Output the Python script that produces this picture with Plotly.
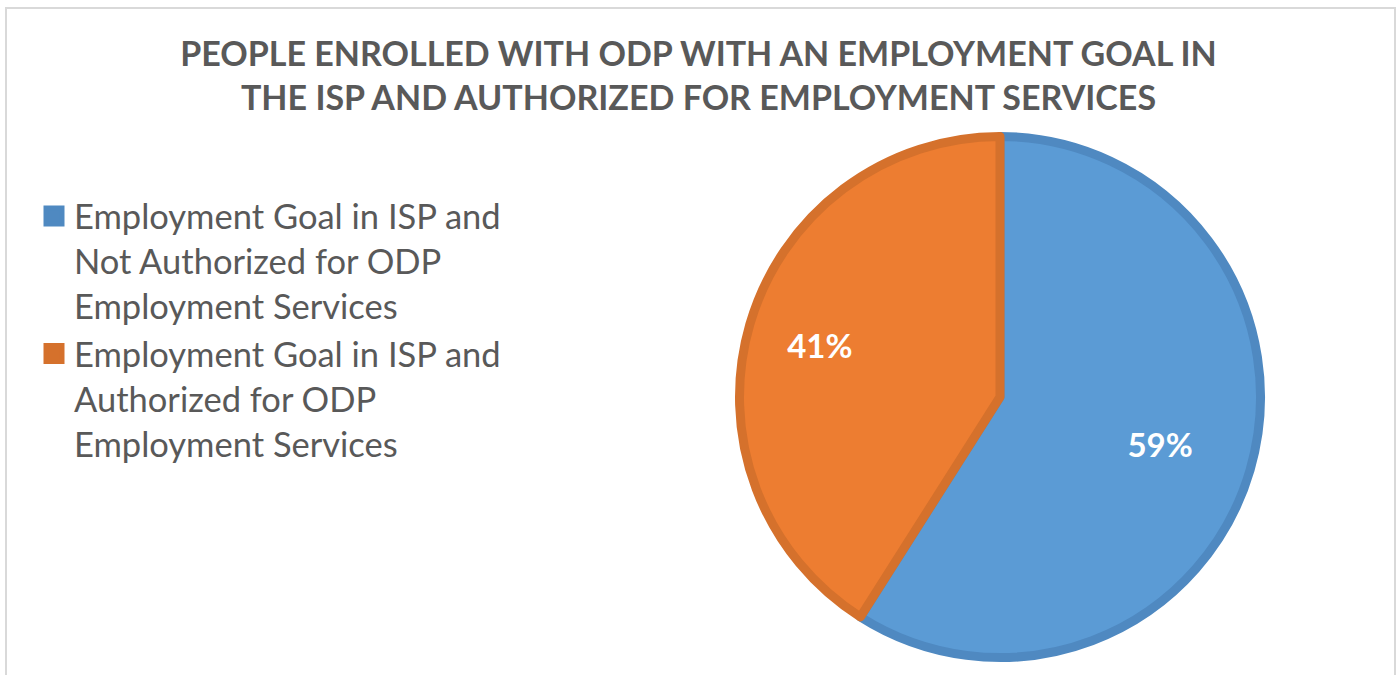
import plotly.graph_objects as go

categories = [
    "Employment Goal in ISP and<br>Not Authorized for ODP<br>Employment Services",
    "Employment Goal in ISP and<br>Authorized for ODP<br>Employment Services",
]
values = [59, 41]
fill_colors = ["#5B9BD5", "#ED7D31"]
edge_colors = ["#4F89C1", "#D5712C"]
title_text = "PEOPLE ENROLLED WITH ODP WITH AN EMPLOYMENT GOAL IN<br>THE ISP AND AUTHORIZED FOR EMPLOYMENT SERVICES"

W, H = 1397, 675
cx, cy, r = 1000, 397, 260.5
dom = dict(x=[(cx - r) / W, (cx + r) / W], y=[(H - cy - r) / H, (H - cy + r) / H])

fig = go.Figure()

# slices
fig.add_trace(go.Pie(
    labels=categories, values=values, sort=False, direction="clockwise", rotation=0,
    marker=dict(colors=fill_colors, line=dict(color=edge_colors, width=9)),
    textinfo="none", showlegend=False, domain=dom, hoverinfo="label+percent",
))
# percentage labels: transparent rings over the same values, one per slice label radius
label_holes = [0.28, 0.44]
for i, hole in enumerate(label_holes):
    tmpl = ["" for _ in values]
    tmpl[i] = "%{percent:.0%}"
    fig.add_trace(go.Pie(
        labels=categories, values=values, sort=False, direction="clockwise", rotation=0,
        hole=hole,
        marker=dict(colors=["rgba(0,0,0,0)"] * len(values), line=dict(width=0)),
        texttemplate=tmpl, textposition="inside", insidetextorientation="horizontal",
        textfont=dict(family="Lato", size=33, color="white", weight="bold"),
        showlegend=False, domain=dom, hoverinfo="skip",
    ))
# legend entries
for name, col in zip(categories, edge_colors):
    fig.add_trace(go.Scatter(
        x=[None], y=[None], mode="markers", name=name,
        marker=dict(symbol="square", size=16, color=col, line=dict(color=col, width=5)),
        hoverinfo="skip",
    ))

fig.update_layout(
    width=W, height=H,
    margin=dict(l=0, r=0, t=0, b=0),
    paper_bgcolor="white", plot_bgcolor="white",
    xaxis=dict(visible=False), yaxis=dict(visible=False),
    title=dict(text=title_text, x=0.5, xanchor="center", yref="container",
               y=1 - 66 / H, yanchor="middle",
               font=dict(family="Lato", size=34, color="#595959", weight="bold")),
    legend=dict(x=34 / W, y=1 - 187 / H, xanchor="left", yanchor="top",
                font=dict(family="Lato", size=34.5, color="#595959"),
                valign="top", tracegroupgap=0, itemwidth=30, bgcolor="rgba(0,0,0,0)"),
    shapes=[dict(type="rect", xref="paper", yref="paper",
                 x0=6 / W, x1=1395 / W, y0=-0.05, y1=1 - 8 / H,
                 line=dict(color="#D9D9D9", width=2), fillcolor="rgba(0,0,0,0)")],
)

fig.write_html("out.html", config={"displayModeBar": False},
               post_script="document.body.style.margin='0px';")
